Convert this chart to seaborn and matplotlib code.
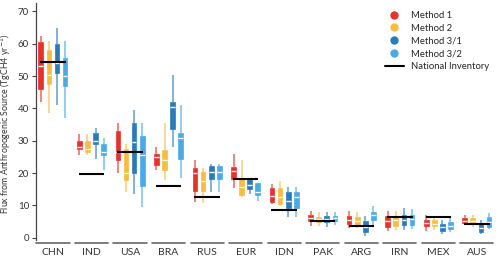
import numpy as np
import pandas as pd
import seaborn as sns
import matplotlib.pyplot as plt
import matplotlib.transforms as mtransforms
from matplotlib.lines import Line2D

countries = ['CHN', 'IND', 'USA', 'BRA', 'RUS', 'EUR', 'IDN', 'PAK', 'ARG', 'IRN', 'MEX', 'AUS']
methods = ['Method 1', 'Method 2', 'Method 3/1', 'Method 3/2']
colors = ['#e5332a', '#f6bd41', '#2a7bb9', '#4aaae6']

# each row: whisker low, q1, median, q3, whisker high
method_1 = [[42, 46, 53, 60.5, 62.5], [25.5, 27.5, 28, 30, 32], [20, 24, 26.5, 33, 35.5],
            [21, 22.5, 25, 26, 28], [11, 14.5, 20, 21.7, 24], [15.5, 18.2, 20.5, 22, 26],
            [10.4, 11.2, 12.9, 15.3, 16.5], [3.7, 5.2, 6, 7, 8.4], [3.1, 4.4, 5.5, 6.7, 8.3],
            [2.2, 3.4, 5.3, 6.7, 8.4], [2.2, 3.6, 4.7, 5.5, 7], [4.2, 4.7, 5.3, 6, 7]]
method_2 = [[38.5, 47.5, 50.5, 58, 61], [25.5, 26.5, 27.5, 30, 32], [14, 18, 20, 27.5, 29],
            [18, 21, 24, 27, 35.5], [10.7, 14.6, 17.6, 20.2, 21.5], [12.5, 13.2, 15.8, 18.1, 24.1],
            [9.9, 10.4, 12.7, 15.3, 17.7], [3.7, 5, 5.8, 6.5, 7.9], [2.9, 3.9, 5.2, 6.5, 7.9],
            [2.4, 3.6, 5.5, 6.5, 8.3], [2.4, 3.6, 4.4, 5.5, 6.7], [3.2, 4.2, 5.2, 6, 7]]
method_3_1 = [[41, 51, 54, 60, 65], [24.5, 29, 30, 32.5, 34], [13.5, 20, 29.5, 35.5, 39.5],
              [28, 33.7, 40.4, 42, 50.5], [14.3, 18.2, 20.3, 22.3, 22.7], [13.4, 15, 16.3, 18.4, 18.6],
              [6.3, 9.3, 11.5, 14, 15.8], [3.4, 5, 5.8, 6.8, 8.1], [0.6, 1.9, 3.4, 5.2, 6.8],
              [2.4, 3.8, 5.5, 7, 9.1], [1.3, 2.2, 3.2, 4.4, 5.5], [1, 1.7, 2.9, 4.7, 5.5]]
method_3_2 = [[37, 47, 50, 55.5, 61], [21, 25.5, 26.5, 29, 31], [9.5, 16, 25.5, 31.5, 35.5],
              [18.4, 24.3, 30.8, 32.4, 41], [14.3, 18.2, 20.3, 22.3, 22.7], [11.4, 13.2, 14, 16.9, 17],
              [6.3, 9.3, 12.7, 14, 15.8], [4, 5.3, 6, 6.8, 8], [3.9, 5.5, 7, 8.1, 9.8],
              [2.6, 3.8, 5.7, 7, 8.9], [1.9, 2.6, 3.7, 5, 6], [2.6, 3.4, 5, 6.3, 7.5]]
national = [54.5, 19.8, 26.5, 16, 12.5, 18.1, 8.7, 5.3, 3.6, 6.4, 6.4, 4.1]

rows = []
for m, vals in zip(methods, [method_1, method_2, method_3_1, method_3_2]):
    for c, five in zip(countries, vals):
        for v in five:
            rows.append((c, m, v))
df = pd.DataFrame(rows, columns=['country', 'method', 'flux'])

sns.set_style('ticks')
plt.rcParams['font.family'] = ['Lato', 'DejaVu Sans']

fig = plt.figure(figsize=(5, 2.62), dpi=100)
ax = fig.add_axes([0.072, 0.084, 0.918, 0.903])

# five values per box -> quartiles fall exactly on the read values
sns.boxplot(data=df, x='country', y='flux', hue='method', order=countries,
            hue_order=methods, palette=colors, whis=(0, 100), width=0.84, gap=0.42,
            showcaps=False, fliersize=0, linewidth=0.5, legend=False,
            medianprops=dict(color='white', linewidth=1), ax=ax)

for cont, col in zip(ax.containers, colors):
    for b in cont.boxes:
        b.set_facecolor(col)
        b.set_edgecolor(col)
    for w in cont.whiskers:
        w.set_color(col)
        w.set_linewidth(1.1)
        w.set_alpha(0.75)

xs = np.arange(len(countries))
ax.hlines(national, xs - 0.33, xs + 0.33, color='black', linewidth=1.5, zorder=5)

# grey group underlines instead of a bottom spine
trans = mtransforms.blended_transform_factory(ax.transData, ax.transAxes)
for x in xs:
    ax.plot([x - 0.43, x + 0.43], [-0.012, -0.012], color='#666666', lw=1.2,
            transform=trans, clip_on=False)

ax.set_xlim(-0.44, 11.47)
ax.set_ylim(-0.7, 72.5)
ax.set_yticks(range(0, 71, 10))
ax.set_xlabel('')
ax.set_ylabel('Flux from Anthropogenic Source (TgCH4 yr$^{-1}$)', fontsize=6.3, color='#333333')
ax.yaxis.set_label_coords(-0.05, 0.49)
ax.tick_params(axis='y', labelsize=7, length=3, width=0.8, color='#444444', labelcolor='#333333', pad=2)
ax.tick_params(axis='x', labelsize=7.5, length=0, labelcolor='#333333', pad=6)
for s in ['top', 'right', 'bottom']:
    ax.spines[s].set_visible(False)
ax.spines['left'].set_color('#444444')
ax.spines['left'].set_linewidth(0.9)

handles = [Line2D([], [], marker='o', linestyle='none', color=c, markersize=5) for c in colors]
handles.append(Line2D([], [], color='black', linewidth=1.5))
fig.legend(handles, methods + ['National Inventory'], loc='upper left',
           bbox_to_anchor=(385 / 500, 1 - 11 / 262), frameon=False, fontsize=6.8,
           handlelength=2, handletextpad=0.8, labelspacing=0.4, borderpad=0,
           borderaxespad=0)

plt.savefig('out.png', dpi=100)
